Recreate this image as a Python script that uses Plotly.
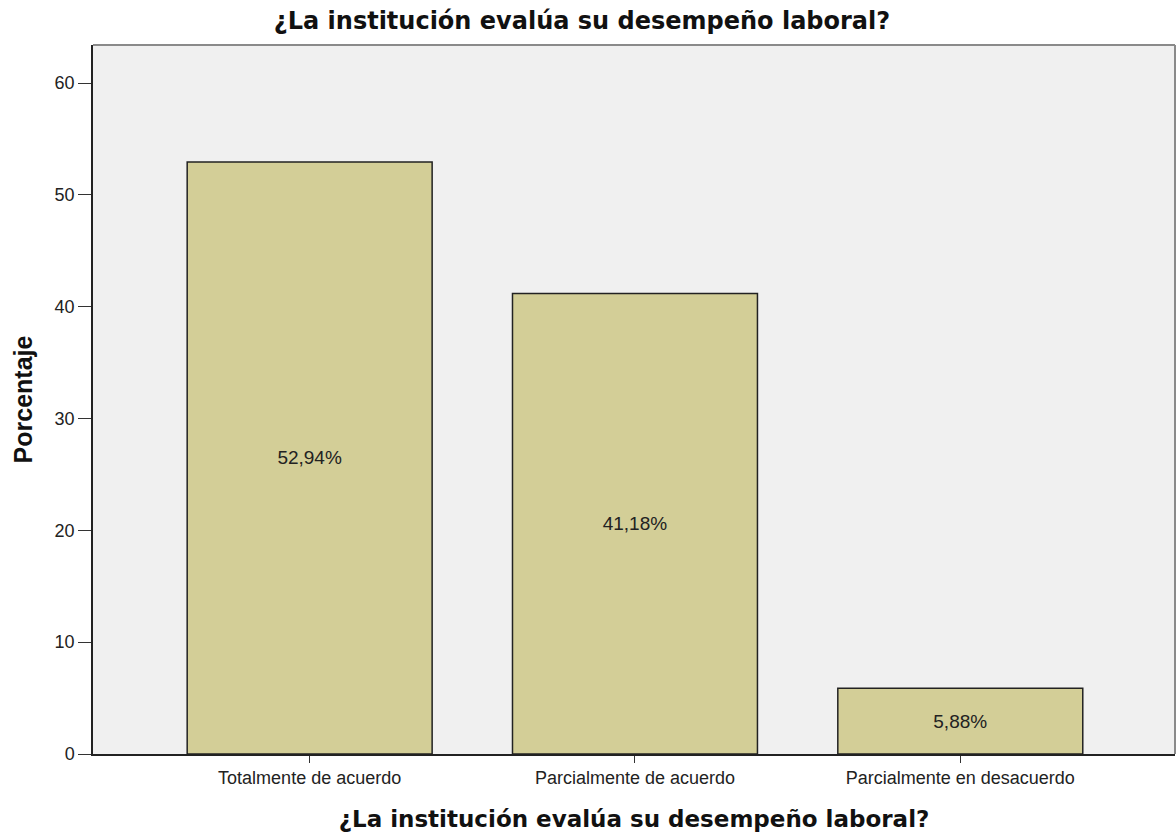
import plotly.graph_objects as go

categories = ["Totalmente de acuerdo", "Parcialmente de acuerdo", "Parcialmente en desacuerdo"]
values = [52.94, 41.18, 5.88]
labels = ["52,94%", "41,18%", "5,88%"]
y_ticks = [0, 10, 20, 30, 40, 50, 60]

title_text = "¿La institución evalúa su desempeño laboral?"
y_title = "Porcentaje"

SMALL = "Liberation Sans, Arial, sans-serif"
BOLD = "DejaVu Sans, Liberation Sans, sans-serif"

fig = go.Figure()
fig.add_trace(go.Bar(
    x=categories,
    y=values,
    text=labels,
    textposition="inside",
    insidetextanchor="middle",
    constraintext="none",
    textfont=dict(family=SMALL, size=19, color="#222222"),
    marker=dict(color="#D3CE97", line=dict(color="#222222", width=1.5)),
    width=0.753,
    hoverinfo="skip",
))

fig.update_layout(
    width=1176,
    height=836,
    paper_bgcolor="white",
    plot_bgcolor="#F0F0F0",
    margin=dict(l=93, r=1, t=45, b=82),
    showlegend=False,
    title=dict(
        text="<b>" + title_text + "</b>",
        x=582 / 1176, xref="container", xanchor="center",
        y=1 - 21 / 836, yref="container", yanchor="middle",
        font=dict(family=BOLD, size=24, color="#111111"),
    ),
    xaxis=dict(
        range=[-0.666, 2.66],
        showgrid=False,
        showline=True, linecolor="#222222", linewidth=1.5,
        ticks="outside", ticklen=7, tickcolor="#333333", tickwidth=1.3,
        tickfont=dict(family=SMALL, size=18, color="#222222"),
        title=dict(text="<b>" + title_text + "</b>",
                   font=dict(family=BOLD, size=23, color="#111111"),
                   standoff=24),
        zeroline=False,
    ),
    yaxis=dict(
        range=[0, 63.4],
        tickvals=y_ticks,
        showgrid=False,
        showline=True, linecolor="#222222", linewidth=1.5,
        ticks="outside", ticklen=13, tickcolor="#333333", tickwidth=1.3,
        tickfont=dict(family=SMALL, size=18, color="#222222"),
        title=dict(text="<b>" + y_title + "</b>",
                   font=dict(family=SMALL, size=25, color="#111111"),
                   standoff=15),
        zeroline=False,
    ),
    shapes=[
        dict(type="line", xref="paper", yref="paper", x0=0, x1=1, y0=1, y1=1,
             line=dict(color="#8a8a8a", width=2)),
        dict(type="line", xref="paper", yref="paper", x0=1, x1=1, y0=0, y1=1,
             line=dict(color="#8a8a8a", width=2)),
    ],
)

fig.write_html("out.html", config={"displayModeBar": False},
               post_script="document.body.style.margin='0';")
